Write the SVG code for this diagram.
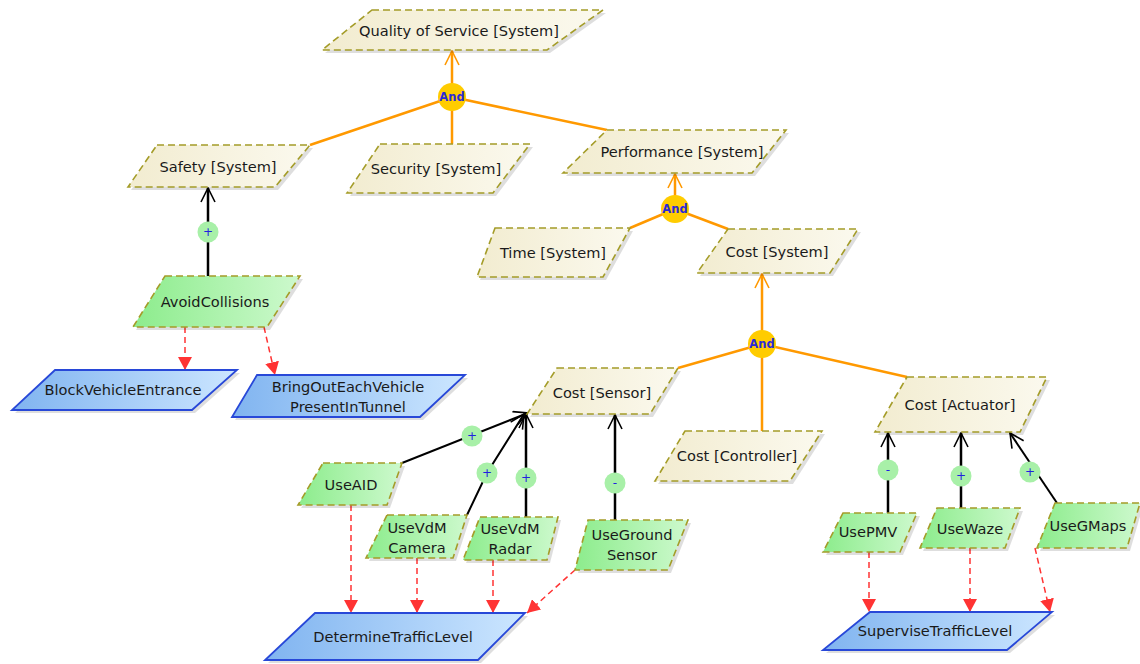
<svg xmlns="http://www.w3.org/2000/svg" width="1140" height="664" viewBox="0 0 1140 664">
<style>
.sg{fill:url(#gSoft);stroke:#a49c28;stroke-width:1.6;stroke-dasharray:7,4}
.gl{fill:url(#gGoal);stroke:#a49c28;stroke-width:1.6;stroke-dasharray:7,4}
.tk{fill:url(#gTask);stroke:#2848d8;stroke-width:1.8}
.sh{fill:#000;opacity:0.13}
.t{font-family:"DejaVu Sans",sans-serif;font-size:14.6px;fill:#1a1a1a;text-anchor:middle;dominant-baseline:central}
.and{fill:#ffcc00}
.andt{font-family:"DejaVu Sans",sans-serif;font-size:11.5px;font-weight:bold;fill:#2a2ad8;text-anchor:middle;dominant-baseline:central}
.cc{fill:#a8f0a8}
.ct{font-family:"DejaVu Sans",sans-serif;font-size:12px;fill:#2020e0;text-anchor:middle;dominant-baseline:central}
.or{stroke:#ff9900;stroke-width:2.5;fill:none}
.bk{stroke:#000;stroke-width:2.5;fill:none}
.bk2{stroke:#000;stroke-width:2;fill:none}
.rd{stroke:#ff3333;stroke-width:1.5;stroke-dasharray:6,4;fill:none}
</style>
<defs>
<linearGradient id="gSoft" x1="0" y1="0" x2="1" y2="0"><stop offset="0" stop-color="#f2ecd0"/><stop offset="1" stop-color="#fbf9ee"/></linearGradient>
<linearGradient id="gGoal" x1="0" y1="0" x2="1" y2="0"><stop offset="0" stop-color="#8cec8c"/><stop offset="1" stop-color="#cdf9cd"/></linearGradient>
<linearGradient id="gTask" x1="0" y1="0" x2="1" y2="0"><stop offset="0" stop-color="#80b4f0"/><stop offset="1" stop-color="#cce6ff"/></linearGradient>
<marker id="aBk" viewBox="0 0 16 16" refX="15" refY="8" markerWidth="16" markerHeight="16" orient="auto" markerUnits="userSpaceOnUse"><path d="M1,1 L15,8 L1,15" fill="none" stroke="#000" stroke-width="1.6"/></marker>
<marker id="aOr" viewBox="0 0 16 16" refX="15" refY="8" markerWidth="16" markerHeight="16" orient="auto" markerUnits="userSpaceOnUse"><path d="M1,1 L15,8 L1,15" fill="none" stroke="#ff9900" stroke-width="1.6"/></marker>
<marker id="aRd" viewBox="0 0 14 14" refX="13" refY="7" markerWidth="14" markerHeight="14" orient="auto" markerUnits="userSpaceOnUse"><path d="M0,0 L13,7 L0,14 Z" fill="#ff3333"/></marker>
</defs>

<g id="connectors">
<path class="or" d="M452,84 L452,51" marker-end="url(#aOr)"/>
<path class="or" d="M452,97 L310,145"/>
<path class="or" d="M452,97 L452,144"/>
<path class="or" d="M452,97 L607,130"/>
<path class="or" d="M675,196 L675,174" marker-end="url(#aOr)"/>
<path class="or" d="M675,209 L630,228"/>
<path class="or" d="M675,209 L728,229"/>
<path class="or" d="M762,331 L762,274" marker-end="url(#aOr)"/>
<path class="or" d="M762,344 L678,368"/>
<path class="or" d="M762,344 L762,431"/>
<path class="or" d="M762,344 L907,377"/>
<path class="bk" d="M208,276 L208,188" marker-end="url(#aBk)"/>
<path class="bk2" d="M402,463 L528,413" marker-end="url(#aBk)"/>
<path class="bk2" d="M467,515 L487,473 L524,414" marker-end="url(#aBk)"/>
<path class="bk" d="M526,517 L526,414" marker-end="url(#aBk)"/>
<path class="bk" d="M615,520 L615,415" marker-end="url(#aBk)"/>
<path class="bk" d="M888,513 L888,433" marker-end="url(#aBk)"/>
<path class="bk" d="M961,508 L961,433" marker-end="url(#aBk)"/>
<path class="bk2" d="M1057,503 L1010,433" marker-end="url(#aBk)"/>
<path class="rd" d="M185,327 L185,370" marker-end="url(#aRd)"/>
<path class="rd" d="M264,327 L275,375" marker-end="url(#aRd)"/>
<path class="rd" d="M351,505 L351,613" marker-end="url(#aRd)"/>
<path class="rd" d="M417,558 L417,613" marker-end="url(#aRd)"/>
<path class="rd" d="M493,560 L493,613" marker-end="url(#aRd)"/>
<path class="rd" d="M575,570 L527,613" marker-end="url(#aRd)"/>
<path class="rd" d="M869,552 L869,612" marker-end="url(#aRd)"/>
<path class="rd" d="M970,548 L970,612" marker-end="url(#aRd)"/>
<path class="rd" d="M1035,548 L1050,612" marker-end="url(#aRd)"/>
<circle class="and" cx="452" cy="97" r="14"/><text class="andt" x="452" y="97">And</text>
<circle class="and" cx="675" cy="209" r="14"/><text class="andt" x="675" y="209">And</text>
<circle class="and" cx="762" cy="344" r="14"/><text class="andt" x="762" y="344">And</text>
<circle class="cc" cx="208" cy="232" r="10.5"/><text class="ct" x="208" y="232">+</text>
<circle class="cc" cx="472" cy="436" r="10.5"/><text class="ct" x="472" y="436">+</text>
<circle class="cc" cx="487" cy="473" r="10.5"/><text class="ct" x="487" y="473">+</text>
<circle class="cc" cx="526" cy="478" r="10.5"/><text class="ct" x="526" y="478">+</text>
<circle class="cc" cx="615" cy="483" r="10.5"/><text class="ct" x="615" y="483">-</text>
<circle class="cc" cx="888" cy="470" r="10.5"/><text class="ct" x="888" y="470">-</text>
<circle class="cc" cx="961" cy="476" r="10.5"/><text class="ct" x="961" y="476">+</text>
<circle class="cc" cx="1030" cy="472" r="10.5"/><text class="ct" x="1030" y="472">+</text>
</g>

<g id="qos"><polygon class="sh" points="375,13 606,13 550,53 325,53"/><polygon class="sg" points="372,10 603,10 547,50 322,50"/><text class="t" x="459" y="30">Quality of Service [System]</text></g>
<g id="safety"><polygon class="sh" points="160,148 313,148 278,190 131,190"/><polygon class="sg" points="157,145 310,145 275,187 128,187"/><text class="t" x="218" y="166">Safety [System]</text></g>
<g id="security"><polygon class="sh" points="383,147 533,147 496,196 350,196"/><polygon class="sg" points="380,144 530,144 493,193 347,193"/><text class="t" x="436" y="168">Security [System]</text></g>
<g id="performance"><polygon class="sh" points="610,133 789,133 755,176 566,176"/><polygon class="sg" points="607,130 786,130 752,173 563,173"/><text class="t" x="682" y="151">Performance [System]</text></g>
<g id="time"><polygon class="sh" points="498,231 633,231 606,280 480,280"/><polygon class="sg" points="495,228 630,228 603,277 477,277"/><text class="t" x="553" y="252">Time [System]</text></g>
<g id="costSystem"><polygon class="sh" points="731,232 861,232 833,276 700,276"/><polygon class="sg" points="728,229 858,229 830,273 697,273"/><text class="t" x="777" y="251">Cost [System]</text></g>
<g id="costSensor"><polygon class="sh" points="560,371 681,371 653,417 530,417"/><polygon class="sg" points="557,368 678,368 650,414 527,414"/><text class="t" x="602" y="392">Cost [Sensor]</text></g>
<g id="costController"><polygon class="sh" points="688,434 825,434 793,484 658,484"/><polygon class="sg" points="685,431 822,431 790,481 655,481"/><text class="t" x="737" y="455">Cost [Controller]</text></g>
<g id="costActuator"><polygon class="sh" points="910,380 1050,380 1023,435 878,435"/><polygon class="sg" points="907,377 1047,377 1020,432 875,432"/><text class="t" x="960" y="404">Cost [Actuator]</text></g>

<g id="avoidCollisions"><polygon class="sh" points="168,279 303,279 270,330 136,330"/><polygon class="gl" points="165,276 300,276 267,327 133,327"/><text class="t" x="215" y="301">AvoidCollisions</text></g>
<g id="useAID"><polygon class="sh" points="326,466 405,466 390,508 301,508"/><polygon class="gl" points="323,463 402,463 387,505 298,505"/><text class="t" x="351" y="484">UseAID</text></g>
<g id="useVdmCamera"><polygon class="sh" points="390,518 470,518 456,561 369,561"/><polygon class="gl" points="387,515 467,515 453,558 366,558"/><text class="t" x="417" y="527">UseVdM</text><text class="t" x="417" y="547">Camera</text></g>
<g id="useVdmRadar"><polygon class="sh" points="483,520 561,520 550,563 466,563"/><polygon class="gl" points="480,517 558,517 547,560 463,560"/><text class="t" x="510" y="528">UseVdM</text><text class="t" x="510" y="548">Radar</text></g>
<g id="useGroundSensor"><polygon class="sh" points="591,523 691,523 671,573 578,573"/><polygon class="gl" points="588,520 688,520 668,570 575,570"/><text class="t" x="632" y="534">UseGround</text><text class="t" x="632" y="554">Sensor</text></g>
<g id="usePMV"><polygon class="sh" points="846,516 920,516 903,555 826,555"/><polygon class="gl" points="843,513 917,513 900,552 823,552"/><text class="t" x="868" y="531">UsePMV</text></g>
<g id="useWaze"><polygon class="sh" points="940,511 1023,511 1008,551 923,551"/><polygon class="gl" points="937,508 1020,508 1005,548 920,548"/><text class="t" x="970" y="528">UseWaze</text></g>
<g id="useGMaps"><polygon class="sh" points="1058,506 1143,506 1130,551 1040,551"/><polygon class="gl" points="1055,503 1140,503 1127,548 1037,548"/><text class="t" x="1088" y="525">UseGMaps</text></g>

<g id="blockVehicleEntrance"><polygon class="sh" points="58,373 240,373 195,413 15,413"/><polygon class="tk" points="55,370 237,370 192,410 12,410"/><text class="t" x="123" y="389">BlockVehicleEntrance</text></g>
<g id="bringOut"><polygon class="sh" points="260,378 468,378 423,420 235,420"/><polygon class="tk" points="257,375 465,375 420,417 232,417"/><text class="t" x="348" y="386">BringOutEachVehicle</text><text class="t" x="348" y="406">PresentInTunnel</text></g>
<g id="determineTrafficLevel"><polygon class="sh" points="318,616 528,616 481,663 268,663"/><polygon class="tk" points="315,613 525,613 478,660 265,660"/><text class="t" x="393" y="636">DetermineTrafficLevel</text></g>
<g id="superviseTrafficLevel"><polygon class="sh" points="873,615 1055,615 1010,653 826,653"/><polygon class="tk" points="870,612 1052,612 1007,650 823,650"/><text class="t" x="935" y="630">SuperviseTrafficLevel</text></g>
</svg>
